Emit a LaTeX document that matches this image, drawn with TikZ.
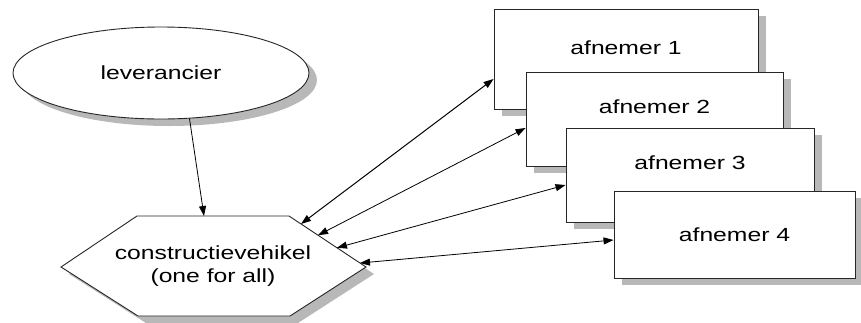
\documentclass[tikz,border=0pt]{standalone}
\usepackage{fontspec}
\usetikzlibrary{shapes.geometric,arrows.meta,shadows,calc}
\newfontfamily\lab[FakeStretch=1.3]{Liberation Sans}
\begin{document}
\begin{tikzpicture}[x=1pt,y=-1pt,
  shade/.style={drop shadow={shadow xshift=8pt,shadow yshift=-7pt,fill=black!28,opacity=1}},
  txt/.style={font=\lab\fontsize{19}{23}\selectfont,inner sep=0pt,align=center},
  shapeline/.style={draw=black!85,line width=0.9pt,fill=white,shade},
  box/.style={shapeline,rectangle,inner sep=0pt},
  conn/.style={draw=black,line width=0.8pt,-{Triangle[length=10pt,width=7pt]}},
  biconn/.style={draw=black,line width=0.8pt,{Triangle[length=10pt,width=7pt]}-{Triangle[length=10pt,width=7pt]}}]
\useasboundingbox (0,0) rectangle (861,322);

% supplier
\node[shapeline,ellipse,minimum width=296pt,minimum height=92pt,inner sep=0pt,txt] (ell) at (161,73) {leverancier};

% hexagon
\coordinate (hl) at (61,267);
\coordinate (htl) at (137,216);
\coordinate (htr) at (289,216);
\coordinate (hr) at (366,267);
\coordinate (hbr) at (290,316);
\coordinate (hbl) at (138,316);
\draw[shapeline,line join=miter] (hl) -- (htl) -- (htr) -- (hr) -- (hbr) -- (hbl) -- cycle;
\node[txt] (hex) at (213,266) {constructievehikel\\(one for all)};

% customers
\node[box,minimum width=264pt,minimum height=100pt] (b1) at (626,59) {};
\node[txt] (t1) at (626,48) {afnemer 1};
\node[box,minimum width=257pt,minimum height=94pt] (b2) at (654.5,119) {};
\node[txt] (t2) at (654.5,107) {afnemer 2};
\node[box,minimum width=248pt,minimum height=94pt] (b3) at (690,175) {};
\node[txt] (t3) at (690,163) {afnemer 3};
\node[box,minimum width=241pt,minimum height=87pt] (b4) at (734.5,234.5) {};
\node[txt] (t4) at (734.5,235) {afnemer 4};

% connectors
\coordinate (hxtop) at (204,216);
\draw[conn] (ell.-58) -- (hxtop);

\coordinate (h1) at ($(htr)!0.156!(hr)$);
\coordinate (h2) at ($(htr)!0.377!(hr)$);
\coordinate (h3) at ($(htr)!0.623!(hr)$);
\coordinate (h4) at ($(htr)!0.922!(hr)$);
\coordinate (p1) at ([yshift=-20pt]b1.west);
\coordinate (p2) at ([yshift=-9pt]b2.west);
\coordinate (p3) at ([yshift=-10pt]b3.west);
\coordinate (p4) at ([yshift=-5.5pt]b4.west);
\draw[biconn,line width=1pt] (h1) -- (p1);
\draw[biconn] (h2) -- (p2);
\draw[biconn] (h3) -- (p3);
\draw[biconn] (h4) -- (p4);
\end{tikzpicture}
\end{document}
